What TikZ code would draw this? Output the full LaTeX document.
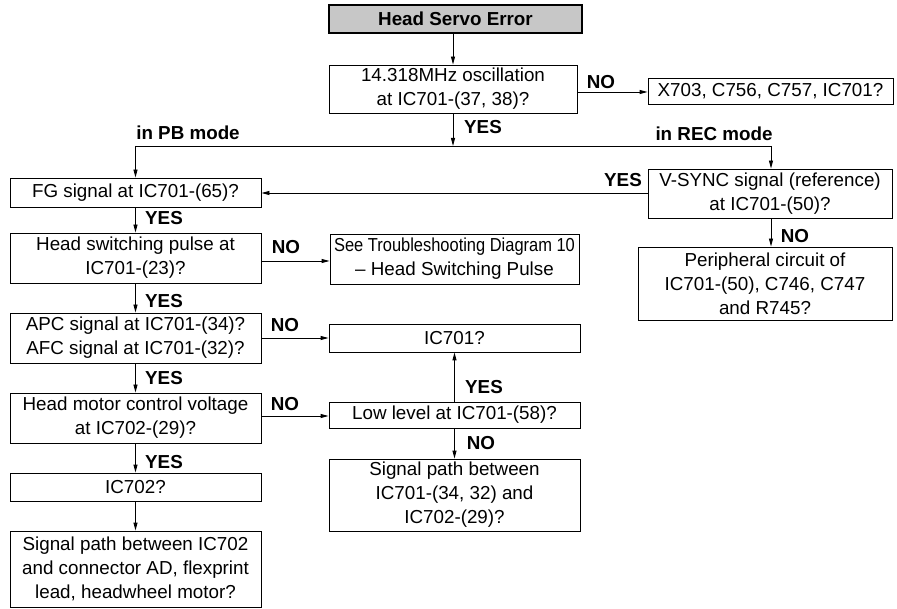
\documentclass[tikz,border=0pt]{standalone}
\usepackage{fontspec}
\setmainfont{Liberation Sans}
\usetikzlibrary{arrows.meta}
\begin{document}
\begin{tikzpicture}[x=1pt,y=-1pt,
  box/.style={draw=black, line width=0.9pt, inner sep=0pt, align=center, font=\fontsize{18.8}{24}\selectfont},
  startbox/.style={box, fill=black!22, line width=1.8pt, font=\fontsize{18.8}{24}\selectfont\bfseries},
  lbl/.style={font=\fontsize{18.8}{24}\selectfont\bfseries, inner sep=0pt},
  ln/.style={line width=0.9pt},
  arr/.style={line width=0.9pt, -{Triangle[length=8pt,width=4pt]}}]
\useasboundingbox (0,0) rectangle (897,609);
% boxes
\node[startbox, minimum width=253pt, minimum height=28pt] (start) at (455.5,19) {Head Servo Error};
\node[box, minimum width=248pt, minimum height=48pt] (osc) at (453,89) {14.318MHz oscillation\\at IC701-(37, 38)?};
\node[box, minimum width=245pt, minimum height=26pt] (x703) at (770.5,91) {X703, C756, C757, IC701?};
\node[box, minimum width=251pt, minimum height=29pt] (fg) at (135.5,192.5) {FG signal at IC701-(65)?};
\node[box, minimum width=244pt, minimum height=49pt] (vsync) at (770,193.5) {V-SYNC signal (reference)\\at IC701-(50)?};
\node[box, minimum width=251pt, minimum height=50pt] (hsw) at (135.5,258) {Head switching pulse at\\IC701-(23)?};
\node[box, minimum width=249pt, minimum height=50pt] (see) at (454.5,259) {\scalebox{0.875}[1]{See Troubleshooting Diagram 10}\\– Head Switching Pulse};
\node[box, minimum width=254pt, minimum height=73pt] (per) at (765,283.5) {Peripheral circuit of\\IC701-(50), C746, C747\\and R745?};
\node[box, minimum width=251pt, minimum height=50pt] (apc) at (135.5,338) {APC signal at IC701-(34)?\\AFC signal at IC701-(32)?};
\node[box, minimum width=251pt, minimum height=28pt] (ic701) at (454.5,338) {IC701?};
\node[box, minimum width=251pt, minimum height=50pt] (hmc) at (135.5,418) {Head motor control voltage\\at IC702-(29)?};
\node[box, minimum width=251pt, minimum height=26pt] (low) at (454.5,415) {Low level at IC701-(58)?};
\node[box, minimum width=251pt, minimum height=72pt] (sig1) at (454.5,495) {Signal path between\\IC701-(34, 32) and\\IC702-(29)?};
\node[box, minimum width=251pt, minimum height=28pt] (ic702) at (135.5,487) {IC702?};
\node[box, minimum width=251pt, minimum height=76pt] (sig2) at (135.5,569) {Signal path between IC702\\and connector AD, flexprint\\lead, headwheel motor?};
% split coordinates
\coordinate (split) at (453,146);
\coordinate (pb) at (135.5,146);
\coordinate (rec) at (771,146);
% connectors
\draw[arr] (start.south -| osc.north) -- (osc.north);
\draw[arr] (osc.east |- 0,92) -- (x703.west |- 0,92);
\draw[arr] (osc.south) -- (split);
\draw[ln] (pb) -- (rec);
\draw[arr] (pb) -- (fg.north);
\draw[arr] (rec) -- (rec |- vsync.north);
\draw[arr] (vsync.west |- 0,193) -- (fg.east |- 0,193);
\draw[arr] (fg.south) -- (hsw.north);
\draw[arr] (hsw.east |- 0,261) -- (see.west |- 0,261);
\draw[arr] (vsync.south -| rec) -- (per.north -| rec);
\draw[arr] (hsw.south) -- (apc.north);
\draw[arr] (apc.east) -- (ic701.west);
\draw[arr] (apc.south) -- (hmc.north);
\draw[arr] (hmc.east |- 0,416) -- (low.west |- 0,416);
\draw[arr] (low.north) -- (ic701.south);
\draw[arr] (low.south) -- (sig1.north);
\draw[arr] (hmc.south) -- (ic702.north);
\draw[arr] (ic702.south) -- (sig2.north);
% labels
\node[lbl] (lno1) at (601,82) {NO};
\node[lbl] (lyes1) at (483,127) {YES};
\node[lbl] (lpb) at (188,133) {in PB mode};
\node[lbl] (lrec) at (714,134) {in REC mode};
\node[lbl] (lyes2) at (623,180) {YES};
\node[lbl] (lyes3) at (164,218) {YES};
\node[lbl] (lno2) at (286,247) {NO};
\node[lbl] (lno3) at (795,236) {NO};
\node[lbl] (lyes4) at (164,301) {YES};
\node[lbl] (lno4) at (285,325) {NO};
\node[lbl] (lyes5) at (164,378) {YES};
\node[lbl] (lno5) at (285,404) {NO};
\node[lbl] (lyes6) at (484,387) {YES};
\node[lbl] (lno6) at (481,443) {NO};
\node[lbl] (lyes7) at (164,462) {YES};
\end{tikzpicture}
\end{document}
